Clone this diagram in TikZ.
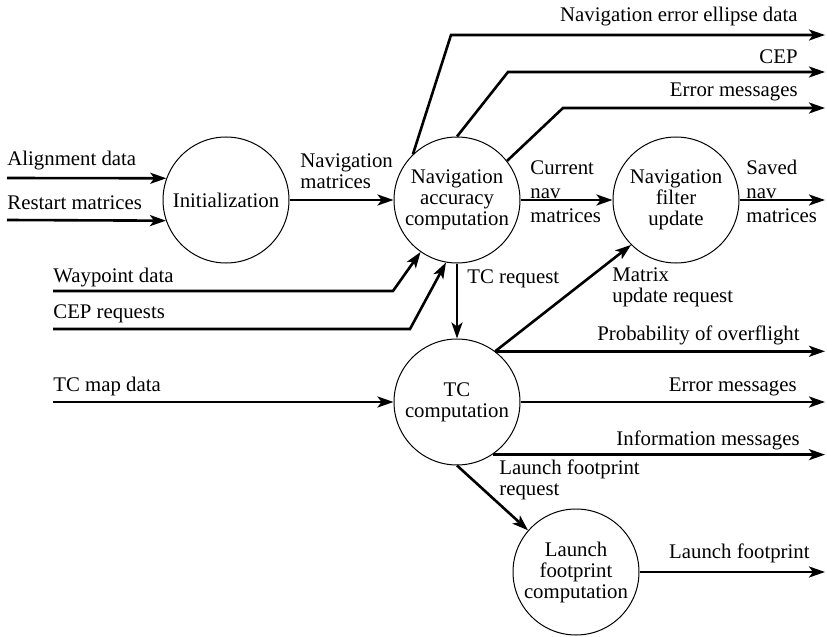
\documentclass[tikz,border=0pt]{standalone}
\usepackage{fontspec}
\setmainfont{Liberation Serif}
\usetikzlibrary{positioning, arrows.meta, calc}

\begin{document}
\begin{tikzpicture}[
        x=0.5pt, y=-0.5pt,
        font=\fontsize{10.4}{10.5}\selectfont,
        process/.style={circle, draw=black, line width=0.5pt, minimum size=63pt, inner sep=0pt, align=center},
        flow/.style={-{Stealth[length=8pt, width=5.5pt, inset=2pt]}, line width=1.3pt},
        lbl/.style={inner sep=0pt, align=left},
        tall/.style={lbl, font=\fontsize{10.4}{11.8}\selectfont}
    ]
        \useasboundingbox (0,0) rectangle (827,637);

        % Processes
        \node[process] (init) at (226,200) {Initialization};
        \node[process] (acc) at (457,200) {Navigation\\accuracy\\computation};
        \node[process] (filter) at (676,200) {Navigation\\filter\\update};
        \node[process] (tc) at (457,402) {TC\\computation};
        \node[process] (launch) at (576,572) {Launch\\footprint\\computation};

        % Sources and sinks
        \coordinate (alignIn) at (7,178);
        \coordinate (restartIn) at (7,220);
        \coordinate (wayIn) at (53,291);
        \coordinate (cepIn) at (53,329);
        \coordinate (mapIn) at (53,402);
        \coordinate (ellipseOut) at (825,35);
        \coordinate (cepOut) at (825,72);
        \coordinate (errOut) at (825,108);
        \coordinate (savedOut) at (825,200);
        \coordinate (probOut) at (tc.53 -| savedOut);
        \coordinate (tcErrOut) at (tc.east -| savedOut);
        \coordinate (infoOut) at (tc.-56 -| savedOut);
        \coordinate (footOut) at (launch.east -| savedOut);

        % Flows into the system
        \draw[flow] (alignIn) -- (init.160);
        \draw[flow] (restartIn) -- (init.199);
        \draw[flow] (init.east) -- (acc.west);
        \draw[flow] (wayIn) -- ++(340,0) -- (acc.235);
        \draw[flow] (cepIn) -- ++(357,0) -- (acc.260);
        \draw[flow] (mapIn) -- (tc.west);

        % Flows between processes
        \draw[flow] (acc.east) -- (filter.west);
        \draw[flow] (acc.south) -- (tc.north);
        \draw[flow] (tc.53) -- (filter.225);
        \draw[flow] (tc.south) -- (launch.139);

        % Flows out of the system
        \draw[flow] (acc.134) -- ([xshift=-187pt]ellipseOut) -- (ellipseOut);
        \draw[flow] (acc.90) -- ([xshift=-158.5pt]cepOut) -- (cepOut);
        \draw[flow] (acc.38) -- ([xshift=-131pt]errOut) -- (errOut);
        \draw[flow] (filter.east) -- (savedOut);
        \draw[flow] (tc.53) -- (probOut);
        \draw[flow] (tc.east) -- (tcErrOut);
        \draw[flow] (tc.-56) -- (infoOut);
        \draw[flow] (launch.east) -- (footOut);

        % Labels (base = baseline of the last line)
        \node[lbl, anchor=base west] (alignTxt) at (7,165) {Alignment data};
        \node[lbl, anchor=base west] (restartTxt) at (7,209) {Restart matrices};
        \node[lbl, anchor=base west] (wayTxt) at (53,282) {Waypoint data};
        \node[lbl, anchor=base west] (cepReqTxt) at (53,318) {CEP requests};
        \node[lbl, anchor=base west] (mapTxt) at (53,392) {TC map data};
        \node[lbl, anchor=base west] (navMatTxt) at (300,189) {Navigation\\matrices};
        \node[tall, anchor=base west] (curTxt) at (530,222) {Current\\nav\\matrices};
        \node[tall, anchor=base west] (savedTxt) at (746,222) {Saved\\nav\\matrices};
        \node[lbl, anchor=base west] (tcReqTxt) at (467,284) {TC request};
        \node[lbl, anchor=base west] (updTxt) at (612,302) {Matrix\\update request};
        \node[lbl, anchor=base west] (footReqTxt) at (499,495) {Launch footprint\\request};
        \node[lbl, anchor=base east] (ellipseTxt) at (798,22) {Navigation error ellipse data};
        \node[lbl, anchor=base east] (cepTxt) at (798,63) {CEP};
        \node[lbl, anchor=base east] (errTxt) at (798,97) {Error messages};
        \node[lbl, anchor=base east] (probTxt) at (800,341) {Probability of overflight};
        \node[lbl, anchor=base east] (tcErrTxt) at (797,392) {Error messages};
        \node[lbl, anchor=base east] (infoTxt) at (800,445) {Information messages};
        \node[lbl, anchor=base east] (footTxt) at (810,559) {Launch footprint};
    \end{tikzpicture}
\end{document}
